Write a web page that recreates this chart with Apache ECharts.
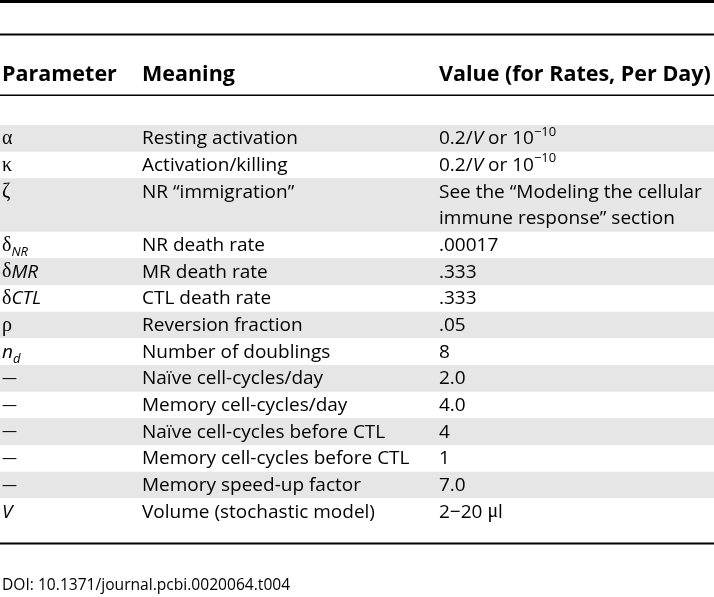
<!DOCTYPE html>
<html>
<head>
<meta charset="utf-8">
<script src="https://cdn.jsdelivr.net/npm/echarts@6/dist/echarts.min.js"></script>
<style>html,body{margin:0;padding:0;background:#fff}#c{width:714px;height:597px}</style>
</head>
<body>
<div id="c"></div>
<script>
// ---- table content ----
const headers = ['Parameter', 'Meaning', 'Value (for Rates, Per Day)'];
const parameters = ['{g|α}', '{g|κ}', '{g|ζ}', '{g|δ}{sub|NR}', '{g|δ}{i|MR}', '{g|δ}{i|CTL}', '{g|ρ}', '{i|n}{sub|d}', '{d|—}', '{d|—}', '{d|—}', '{d|—}', '{d|—}', '{i|V}'];
const meanings = ['Resting activation', 'Activation/killing', 'NR “immigration”', 'NR death rate', 'MR death rate', 'CTL death rate', 'Reversion fraction', 'Number of doublings', 'Naïve cell-cycles/day', 'Memory cell-cycles/day', 'Naïve cell-cycles before CTL', 'Memory cell-cycles before CTL', 'Memory speed-up factor', 'Volume (stochastic model)'];
const values = ['0.2/{i|V} or 10{sup|−10}', '0.2/{i|V} or 10{sup|−10}', 'See the “Modeling the cellular\nimmune response” section', '.00017', '.333', '.333', '.05', '8', '2.0', '4.0', '4', '1', '7.0', '2−20 {g|μ}l'];
const rowLines = [1, 1, 2, 1, 1, 1, 1, 1, 1, 1, 1, 1, 1, 1];
const footnote = 'DOI: 10.1371/journal.pcbi.0020064.t004';

// build row starts
const rowStart = [];
let acc = 0;
rowLines.forEach(n => { rowStart.push(acc); acc += n; });
const totalLines = acc;

const chart = echarts.init(document.getElementById('c'), null, {renderer: 'canvas'});
const FONT = 'Open Sans';
const BODY = 19;
const LH = 26.67;
const colX = [2, 142, 439];
const rich = {
  g: {fontFamily: 'Liberation Serif', fontSize: BODY + 1, lineHeight: LH},
  i: {fontStyle: 'italic', fontFamily: FONT, fontSize: BODY, lineHeight: LH},
  d: {fontFamily: FONT, fontSize: 15, lineHeight: LH},
  sub: {fontStyle: 'italic', fontFamily: FONT, fontSize: 13, lineHeight: 20, verticalAlign: 'bottom'},
  sup: {fontFamily: FONT, fontSize: 13, lineHeight: 14, verticalAlign: 'top'}
};

const data = rowLines.map((n, i) => [rowStart[i], n]);

chart.setOption({
  animation: false,
  grid: {left: 0, right: 0, top: 125, bottom: 72},
  xAxis: {type: 'value', min: 0, max: 1, show: false},
  yAxis: {type: 'value', min: 0, max: totalLines, inverse: true, show: false},
  graphic: [
    {type: 'rect', shape: {x: 0, y: 0, width: 714, height: 3}, style: {fill: '#000'}},
    {type: 'rect', shape: {x: 0, y: 33.5, width: 714, height: 2}, style: {fill: '#000'}},
    {type: 'rect', shape: {x: 0, y: 94.5, width: 714, height: 1.5}, style: {fill: '#000'}},
    {type: 'rect', shape: {x: 0, y: 542.5, width: 714, height: 2}, style: {fill: '#000'}},
    ...headers.map((h, k) => ({type: 'text', x: colX[k], y: 75, style: {text: h, fontFamily: FONT, fontWeight: 'bold', fontSize: 21.5, fill: '#000', verticalAlign: 'middle', align: 'left'}})),
    {type: 'text', x: 2, y: 586, style: {text: footnote, fontFamily: FONT, fontSize: 15.6, fill: '#000', verticalAlign: 'middle'}}
  ],
  series: [{
    type: 'custom',
    data: data,
    renderItem: function (params, api) {
      const i = params.dataIndex;
      const start = api.value(0), span = api.value(1);
      const top = api.coord([0, start])[1];
      const h = api.size([0, span])[1];
      const cs = params.coordSys;
      const children = [];
      if (i % 2 === 0) {
        children.push({type: 'rect', shape: {x: cs.x, y: top, width: cs.width, height: h}, style: {fill: '#e6e6e6'}});
      }
      const texts = [parameters[i], meanings[i], values[i]];
      texts.forEach((t, k) => {
        children.push({type: 'text', x: cs.x + colX[k], y: top + 0.5, style: {
          text: t, rich: rich, fontFamily: FONT, fontSize: BODY, lineHeight: LH, fill: '#000',
          verticalAlign: 'top', align: 'left'
        }});
      });
      return {type: 'group', children: children};
    }
  }]
});
</script>
</body>
</html>
